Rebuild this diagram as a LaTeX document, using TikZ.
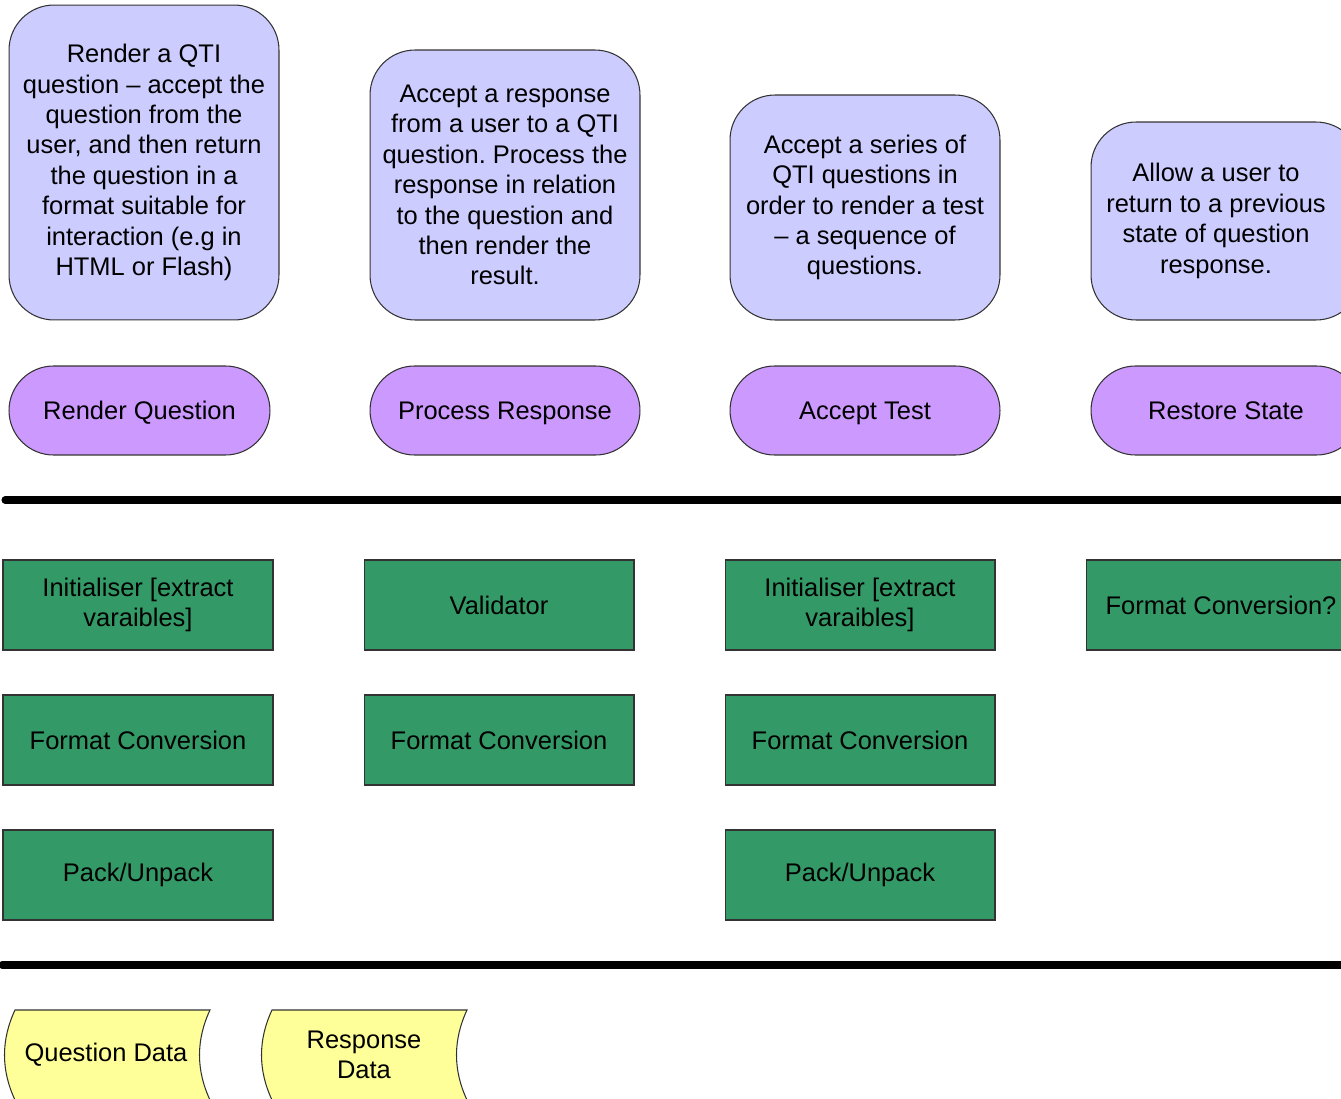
\documentclass[tikz,border=0pt]{standalone}
\usepackage{fontspec}
\setmainfont{Liberation Sans}
\usepackage{tikz}
\usetikzlibrary{positioning}

\definecolor{goalblue}{HTML}{CCCCFF}
\definecolor{casepurple}{HTML}{CC99FF}
\definecolor{partgreen}{HTML}{339966}
\definecolor{datayellow}{HTML}{FFFF99}
\frenchspacing

\begin{document}
\begin{tikzpicture}[x=0.02cm,y=-0.02cm,font=\fontsize{14.5}{17.3}\selectfont]
        % Setup the styles for the boxes
        \tikzset{goal style/.style={draw=black!80,
                                    line width=0.6pt,
                                    fill=goalblue,
                                    rounded corners=0.9cm,
                                    minimum width=5.4cm,
                                    align=center},
                 case style/.style={draw=black!80,
                                    line width=0.6pt,
                                    fill=casepurple,
                                    rounded corners=0.89cm,
                                    minimum width=5.4cm,
                                    minimum height=1.78cm,
                                    text height=10.5pt,
                                    text depth=0pt},
                 part style/.style={draw=black!80,
                                    line width=0.6pt,
                                    fill=partgreen,
                                    minimum width=5.4cm,
                                    minimum height=1.8cm,
                                    align=center},
                 data style/.style={draw=black!80,
                                    line width=0.6pt,
                                    fill=datayellow},
                 bar style/.style={line width=4pt,
                                   line cap=round}}

        \useasboundingbox (0,0) rectangle (1341,1098);

        % Draw the goals
        \node[goal style, minimum height=6.3cm]  at (144,162.5) (render goal)  {Render a QTI\\question -- accept the\\question from the\\user, and then return\\the question in a\\format suitable for\\interaction (e.g in\\HTML or Flash)};
        \node[goal style, minimum height=5.4cm]  at (505,185)   (process goal) {Accept a response\\from a user to a QTI\\question. Process the\\response in relation\\to the question and\\then render the\\result.};
        \node[goal style, minimum height=4.5cm]  at (865,207.5) (test goal)    {Accept a series of\\QTI questions in\\order to render a test\\-- a sequence of\\questions.};
        \node[goal style, minimum height=3.96cm] at (1226,221)  (restore goal) {};
        \node[align=center] at (1216,221) (restore text) {Allow a user to\\return to a previous\\state of question\\response.};

        % Draw the use cases
        \node[case style, minimum width=5.22cm] at (139.5,410.5) (render case)  {Render Question};
        \node[case style] at (505,410.5)  (process case) {Process Response};
        \node[case style] at (865,410.5)  (test case)    {Accept Test};
        \node[case style] at (1226,410.5) (restore case) {Restore State};

        % Draw the dividing bars
        \coordinate (upper left)  at (5,500);
        \coordinate (upper right) at (1345,500);
        \coordinate (lower left)  at (2,965);
        \coordinate (lower right) at (1345,965);
        \draw[bar style] (upper left) -- (upper right);
        \draw[bar style] (lower left) -- (lower right);

        % Draw the components
        \node[part style] at (138,605)  (render init)    {Initialiser [extract\\varaibles]};
        \node[part style] at (138,740)  (render format)  {Format Conversion};
        \node[part style] at (138,875)  (render pack)    {Pack/Unpack};
        \node[part style] at (499,605)  (process valid)  {Validator};
        \node[part style] at (499,740)  (process format) {Format Conversion};
        \node[part style] at (860,605)  (test init)      {Initialiser [extract\\varaibles]};
        \node[part style] at (860,740)  (test format)    {Format Conversion};
        \node[part style] at (860,875)  (test pack)      {Pack/Unpack};
        \node[part style] at (1221,605) (restore format) {Format Conversion?};

        % Draw the data stores
        \draw[data style] (15,1010) -- (210,1010)
            .. controls (196,1040) and (196,1070) .. (210,1100)
            -- (15,1100)
            .. controls (1,1070) and (1,1040) .. (15,1010) -- cycle;
        \node at (106,1055) (question data) {Question Data};
        \draw[data style] (272,1010) -- (467,1010)
            .. controls (453,1040) and (453,1070) .. (467,1100)
            -- (272,1100)
            .. controls (258,1070) and (258,1040) .. (272,1010) -- cycle;
        \node[align=center] at (364,1055) (response data) {Response\\Data};
\end{tikzpicture}
\end{document}
